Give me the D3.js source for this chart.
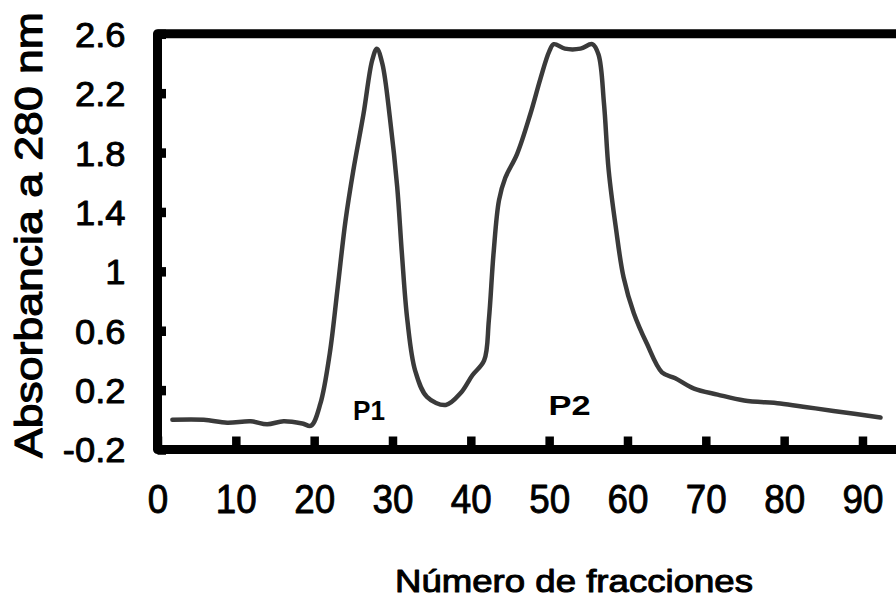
<!DOCTYPE html>
<html>
<head>
<meta charset="utf-8">
<script src="https://cdn.jsdelivr.net/npm/d3@7"></script>
<style>
  html, body { margin: 0; padding: 0; background: #fff; }
  svg { display: block; }
</style>
</head>
<body>
<script>
// fraction number
var fractions = [
  1.9, 5.9, 8.9, 11.9, 14, 16.1, 18.5, 19.6, 20.8, 22, 23, 24, 25, 26.3, 27.4, 28,
  28.7, 29.7, 30.6, 31.2, 31.9, 32.9, 34.4, 36.8, 38.7, 40.2, 41.7, 42.3, 42.9,
  43.6, 44.4, 45.9, 47.6, 48.9, 50, 50.6, 52, 54, 55.5, 56.3, 57, 57.6, 58.5,
  59.5, 60.8, 62.5, 64.4, 66.1, 68.5, 71.5, 74.9, 79.5, 82.9, 86.3, 92.3
];

// absorbance at 280 nm for each fraction
var absorbance = [
  0.00, 0.00, -0.02, -0.01, -0.03, -0.01, -0.025, -0.04, 0.11, 0.45, 0.89, 1.34,
  1.68, 2.06, 2.42, 2.50, 2.40, 2.02, 1.57, 1.12, 0.67, 0.33, 0.155, 0.10, 0.18,
  0.30, 0.40, 0.67, 1.12, 1.48, 1.63, 1.79, 2.06, 2.30, 2.48, 2.53, 2.50, 2.50,
  2.53, 2.46, 2.13, 1.68, 1.30, 0.96, 0.72, 0.51, 0.32, 0.28, 0.21, 0.17, 0.13,
  0.11, 0.085, 0.06, 0.015
];

var xTicks = [0, 10, 20, 30, 40, 50, 60, 70, 80, 90];
var yTicks = [-0.2, 0.2, 0.6, 1, 1.4, 1.8, 2.2, 2.6];

var peakNames = ['P1', 'P2'];
var peakAt = [27.0, 52.6];   // fraction where label sits
var peakLevel = [0.0, 0.03]; // absorbance of label baseline

var
  W = 896,
  H = 599,
  font = '"Liberation Sans", Arial, sans-serif',

  x = d3.scaleLinear().domain([0, 95]).range([157.5, 157.5 + 95 * 7.833]),
  y = d3.scaleLinear().domain([-0.2, 2.6]).range([449.5, 33.8]),

  // plain regular text with a thin outline, a bit heavier than regular
  heavy = function heavy(sel, w) {
    sel.attr('fill', '#000')
      .attr('stroke', '#000')
      .attr('stroke-width', w)
      .attr('stroke-linejoin', 'round');
  },

  draw = function draw() {
    var svg = d3.select('body').append('svg')
      .attr('width', W)
      .attr('height', H);

    var data = fractions.map(function (f, i) { return [f, absorbance[i]]; });

    // the frame: top, left and bottom only
    svg.append('path')
      .attr('d', 'M' + W + ',' + y(2.6) + 'H' + x(0) + 'V' + y(-0.2) + 'H' + W)
      .attr('fill', 'none')
      .attr('stroke', '#000')
      .attr('stroke-width', 9)
      .attr('stroke-linejoin', 'round');

    // x axis
    var gx = svg.append('g')
      .attr('transform', 'translate(0,' + y(-0.2) + ')')
      .call(d3.axisBottom(x).tickValues(xTicks).tickSizeInner(-13).tickSizeOuter(0));
    gx.select('.domain').remove();
    gx.selectAll('.tick line').attr('stroke', '#000').attr('stroke-width', 8.5);
    gx.selectAll('.tick text')
      .attr('y', 63.5)
      .attr('dy', null)
      .attr('transform', 'scale(0.92,1)')
      .style('font-family', font)
      .style('font-size', '40px')
      .call(heavy, 0.9);

    // y axis
    var gy = svg.append('g')
      .attr('transform', 'translate(' + x(0) + ',0)')
      .call(d3.axisLeft(y).tickValues(yTicks)
        .tickFormat(function (d) { return String(d); })
        .tickSizeInner(-8.5).tickSizeOuter(0));
    gy.select('.domain').remove();
    gy.selectAll('.tick line').attr('stroke', '#000').attr('stroke-width', 9.5);
    gy.selectAll('.tick text')
      .attr('x', 0)
      .attr('dy', '0.357em')
      .attr('transform', 'translate(-32,0) scale(1.04,1)')
      .style('font-family', font)
      .style('font-size', '35px')
      .call(heavy, 0.9);

    // elution curve
    svg.append('path')
      .datum(data)
      .attr('fill', 'none')
      .attr('stroke', '#3a3a3a')
      .attr('stroke-width', 4.5)
      .attr('stroke-linejoin', 'round')
      .attr('stroke-linecap', 'round')
      .attr('d', d3.line()
        .x(function (d) { return x(d[0]); })
        .y(function (d) { return y(d[1]); })
        .curve(d3.curveCatmullRom.alpha(0.5)));

    // peak labels
    svg.selectAll('.peak')
      .data(peakNames)
      .enter().append('text')
      .attr('class', 'peak')
      .attr('x', function (d, i) { return x(peakAt[i]); })
      .attr('y', function (d, i) { return y(peakLevel[i]); })
      .attr('text-anchor', 'middle')
      .attr('font-family', font)
      .attr('font-weight', 'bold')
      .attr('font-size', 27)
      .attr('textLength', function (d) { return d === 'P1' ? 32 : 42; })
      .attr('lengthAdjust', 'spacingAndGlyphs')
      .text(function (d) { return d; });

    // axis titles
    svg.append('text')
      .attr('transform', 'translate(42,235) rotate(-90)')
      .attr('text-anchor', 'middle')
      .attr('font-family', font)
      .attr('font-size', 38)
      .attr('textLength', 446)
      .attr('lengthAdjust', 'spacingAndGlyphs')
      .call(heavy, 1.1)
      .text('Absorbancia a 280 nm');

    svg.append('text')
      .attr('x', 574)
      .attr('y', 592)
      .attr('text-anchor', 'middle')
      .attr('font-family', font)
      .attr('font-size', 32)
      .attr('textLength', 358)
      .attr('lengthAdjust', 'spacingAndGlyphs')
      .call(heavy, 1)
      .text('Número de fracciones');
  };

window.addEventListener('load', draw, false);
</script>
</body>
</html>
